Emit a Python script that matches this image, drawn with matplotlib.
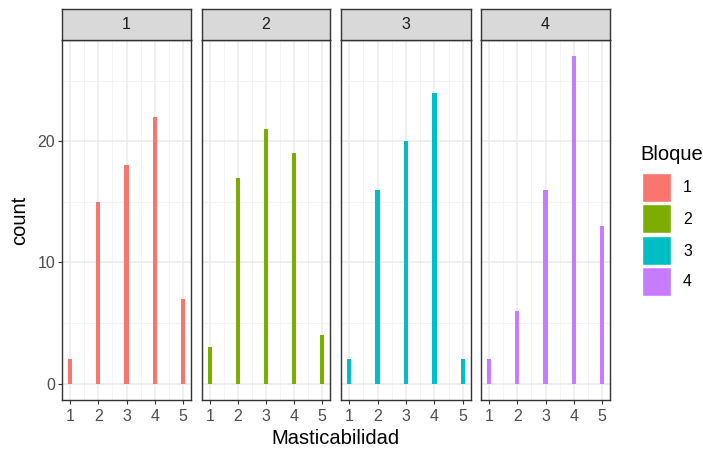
import matplotlib
matplotlib.use("Agg")
import matplotlib.pyplot as plt
from matplotlib.patches import Rectangle

plt.rcParams['font.family'] = ['Liberation Sans', 'DejaVu Sans']

bloques = ["1", "2", "3", "4"]
masticabilidad = [1, 2, 3, 4, 5]
counts_b1 = [2, 15, 18, 22, 7]
counts_b2 = [3, 17, 21, 19, 4]
counts_b3 = [2, 16, 20, 24, 2]
counts_b4 = [2, 6, 16, 27, 13]
counts = [counts_b1, counts_b2, counts_b3, counts_b4]
colors = ["#F8766D", "#7CAE00", "#00BFC4", "#C77CFF"]
yticks = [0, 10, 20]

W, H = 703, 451
fig = plt.figure(figsize=(W / 100, H / 100), dpi=100)

panels_px = [(62, 191), (202, 330), (341, 471), (481, 610)]
top_px, bot_px = 40, 400
strip_top = 9

bw = 0.15
xlo, xhi = 1 - bw / 2, 5 + bw / 2
xr = xhi - xlo
xlim = (xlo - 0.05 * xr, xhi + 0.05 * xr)
ymax = max(max(c) for c in counts)
ylim = (-0.05 * ymax, ymax * 1.05)

dark = "#333333"
tick_fs = 11.5
title_fs = 14.5
for i, (x0, x1) in enumerate(panels_px):
    ax = fig.add_axes([x0 / W, 1 - bot_px / H, (x1 - x0) / W, (bot_px - top_px) / H])
    ax.set_facecolor("white")
    ax.set_xlim(*xlim)
    ax.set_ylim(*ylim)
    ax.set_xticks(masticabilidad)
    ax.set_xticks([1.5, 2.5, 3.5, 4.5], minor=True)
    ax.set_yticks(yticks)
    ax.set_yticks([5, 15, 25], minor=True)
    ax.grid(which="major", color="#EBEBEB", linewidth=1.1)
    ax.grid(which="minor", color="#F2F2F2", linewidth=0.6)
    ax.set_axisbelow(True)
    ax.bar(masticabilidad, counts[i], width=bw, color=colors[i], zorder=3)
    for s in ax.spines.values():
        s.set_color(dark)
        s.set_linewidth(1.0)
    ax.tick_params(which="major", length=3, color=dark, labelsize=tick_fs,
                   labelcolor="#4D4D4D")
    ax.tick_params(axis="x", pad=3.5)
    ax.tick_params(axis="y", pad=2)
    ax.tick_params(which="minor", length=0)
    if i > 0:
        ax.tick_params(axis="y", labelleft=False, length=0)
    # strip
    sax = fig.add_axes([x0 / W, 1 - top_px / H, (x1 - x0) / W, (top_px - strip_top) / H])
    sax.set_facecolor("#D9D9D9")
    sax.set_xticks([])
    sax.set_yticks([])
    for s in sax.spines.values():
        s.set_color(dark)
        s.set_linewidth(1.0)
    sax.text(0.5, 0.5, bloques[i], ha="center", va="center", fontsize=tick_fs,
             color="#1A1A1A", transform=sax.transAxes)

fig.text(20 / W, 1 - 220 / H, "count", rotation=90, ha="center", va="center",
         fontsize=title_fs, color="black")
fig.text(335 / W, 1 - 439 / H, "Masticabilidad", ha="center", va="center",
         fontsize=title_fs, color="black")

# legend
fig.text(640 / W, 1 - 154 / H, "Bloque", ha="left", va="center",
         fontsize=title_fs, color="black")
key_y = [173, 204, 236, 267]
for b, c, ky in zip(bloques, colors, key_y):
    fig.patches.append(Rectangle((642 / W, 1 - (ky + 29) / H), 29 / W, 29 / H,
                                 transform=fig.transFigure, facecolor=c,
                                 edgecolor="white", linewidth=1))
    fig.text(683 / W, 1 - (ky + 15) / H, b, ha="left", va="center",
             fontsize=tick_fs, color="black")

fig.savefig("out.png", dpi=100, facecolor="white")
